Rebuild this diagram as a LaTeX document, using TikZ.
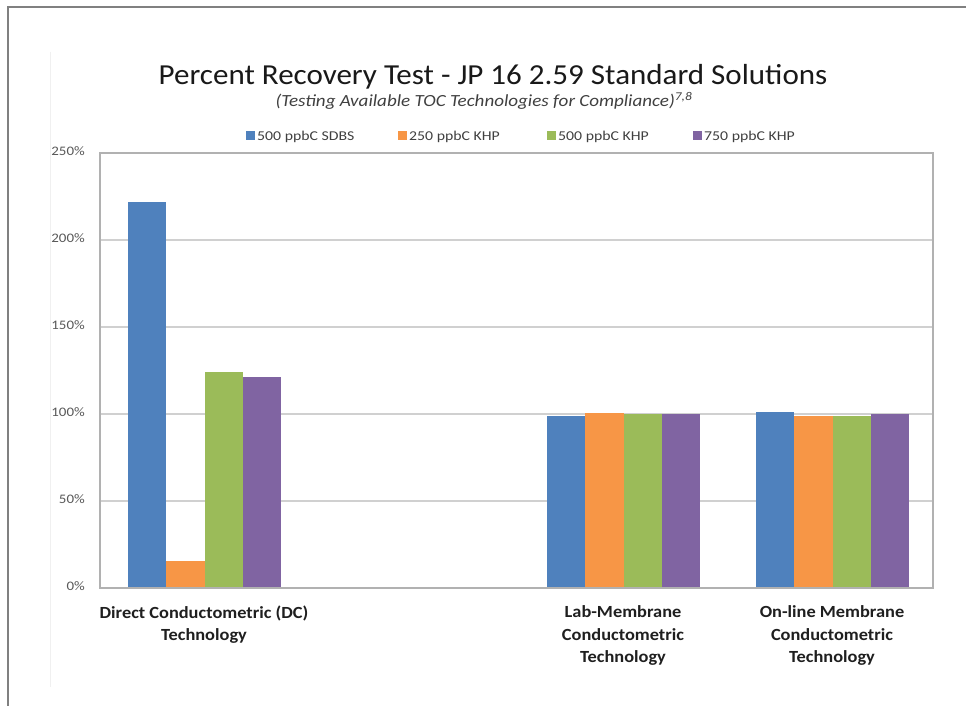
\documentclass[tikz,border=0pt]{standalone}
\usepackage{fontspec}
\setmainfont{Carlito}
\definecolor{sdbs}{HTML}{4F81BD}
\definecolor{khpA}{HTML}{F79646}
\definecolor{khpB}{HTML}{9BBB59}
\definecolor{khpC}{HTML}{8064A2}
\definecolor{gridgray}{HTML}{D0D0D0}
\definecolor{framegray}{HTML}{808080}
\definecolor{ticktext}{HTML}{595959}
\definecolor{legtext}{HTML}{404040}
% bar: left edge, value in percent, colour
\newcommand\colbar[3]{\fill[#3] (#1,588) rectangle ({#1+38.25},{588-1.74*#2});}
% slightly widened lettering
\newcommand\wide[2]{\scalebox{#1}[1]{#2}}
\begin{document}
\begin{tikzpicture}[x=1pt,y=-1pt,
  ticklabel/.style={anchor=mid east,inner sep=0pt,font=\fontsize{13}{15}\selectfont,text=ticktext},
  catlabel/.style={anchor=base,inner sep=0pt,font=\fontsize{17}{20}\selectfont\bfseries,text=black!88},
  legsq/.style={minimum size=9pt,inner sep=0pt},
  legtxt/.style={anchor=base west,inner sep=0pt,font=\fontsize{13.5}{15}\selectfont,text=legtext}]
\useasboundingbox (0,0) rectangle (966,706);
\fill[white] (0,0) rectangle (966,706);

% outer frame (top and left edges)
\draw[framegray,line width=1.5pt] (966,7) -- (8,7) -- (8,706);
% chart area edge
\draw[black!6,line width=1pt] (50,52) -- (50,687);

% title block
\node[anchor=base,inner sep=0pt,font=\fontsize{29}{32}\selectfont,text=black!90] (title) at (493,85)
  {\wide{1.07}{Percent Recovery Test - JP 16 2.59 Standard Solutions}};
\node[anchor=base,inner sep=0pt,font=\fontsize{17}{19}\selectfont\itshape,text=legtext] (subtitle) at (484,107)
  {\wide{1.12}{(Testing Available TOC Technologies for Compliance)\textsuperscript{7,8}}};

% legend
\node[legsq,fill=sdbs] (lsq1) at (250,136) {};
\node[legtxt] (ltx1) at (257,140) {\wide{1.17}{500 ppbC SDBS}};
\node[legsq,fill=khpA] (lsq2) at (402,136) {};
\node[legtxt] (ltx2) at (409,140) {\wide{1.17}{250 ppbC KHP}};
\node[legsq,fill=khpB] (lsq3) at (551,136) {};
\node[legtxt] (ltx3) at (558,140) {\wide{1.17}{500 ppbC KHP}};
\node[legsq,fill=khpC] (lsq4) at (697,136) {};
\node[legtxt] (ltx4) at (704,140) {\wide{1.17}{750 ppbC KHP}};

% gridlines and value labels
\foreach \v/\lab in {0/0\%,50/50\%,100/100\%,150/150\%,200/200\%,250/250\%}{
  \draw[gridgray,line width=1.2pt] (100,{588-1.74*\v}) -- (933,{588-1.74*\v});
  \node[ticklabel] (tick\v) at (85,{588-1.74*\v}) {\wide{1.15}{\lab}};
}

% Direct Conductometric
\colbar{128}{222}{sdbs}
\colbar{166.25}{15.5}{khpA}
\colbar{204.5}{124}{khpB}
\colbar{242.75}{121}{khpC}
% Lab-Membrane
\colbar{547}{98.9}{sdbs}
\colbar{585.25}{100.8}{khpA}
\colbar{623.5}{100}{khpB}
\colbar{661.75}{100}{khpC}
% On-line Membrane
\colbar{756}{101}{sdbs}
\colbar{794.25}{99}{khpA}
\colbar{832.5}{99}{khpB}
\colbar{870.75}{100}{khpC}

% plot area border
\draw[gridgray!85!black,line width=1.2pt] (100,153) rectangle (933,588);

% category labels
\node[catlabel] (dcA) at (204,618) {\wide{1.08}{Direct Conductometric (DC)}};
\node[catlabel] (dcB) at (204,640) {\wide{1.08}{Technology}};
\node[catlabel] (lmA) at (623,617) {\wide{1.08}{Lab-Membrane}};
\node[catlabel] (lmB) at (623,640) {\wide{1.08}{Conductometric}};
\node[catlabel] (lmC) at (623,662) {\wide{1.08}{Technology}};
\node[catlabel] (olA) at (832,617) {\wide{1.08}{On-line Membrane}};
\node[catlabel] (olB) at (832,640) {\wide{1.08}{Conductometric}};
\node[catlabel] (olC) at (832,662) {\wide{1.08}{Technology}};
\end{tikzpicture}
\end{document}
